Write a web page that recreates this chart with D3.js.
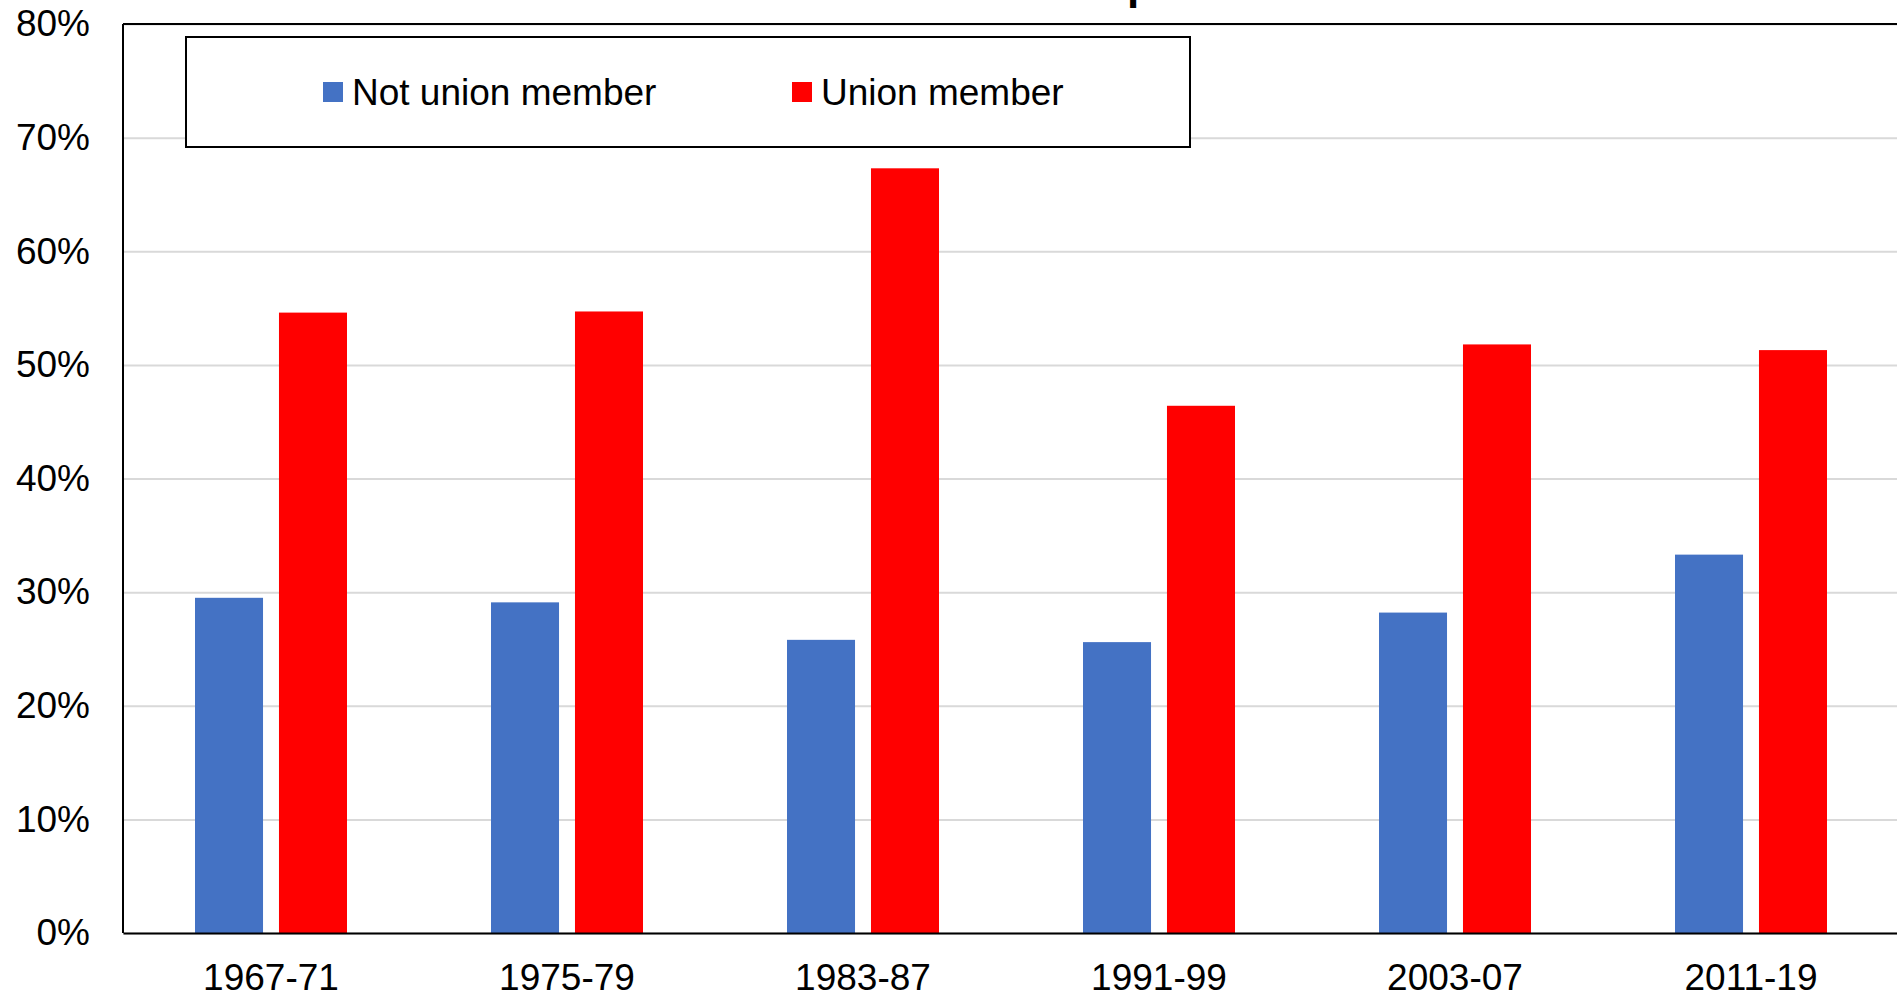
<!DOCTYPE html>
<html lang="en">
<head>
    <meta charset="UTF-8">
    <script src="https://cdnjs.cloudflare.com/ajax/libs/d3/7.8.5/d3.min.js"></script>
    <style>
        body { margin: 0; background: #fff; }
        svg { display: block; font-family: "Liberation Sans", Arial, sans-serif; }
    </style>
</head>
<body>
<div id="chart"></div>

<script>
    // data
    var periods = ["1967-71", "1975-79", "1983-87", "1991-99", "2003-07", "2011-19"];
    var seriesNames = ["Not union member", "Union member"];
    var notUnion = [29.5, 29.1, 25.8, 25.6, 28.2, 33.3];
    var union = [54.6, 54.7, 67.3, 46.4, 51.8, 51.3];
    var yTicks = [0, 10, 20, 30, 40, 50, 60, 70, 80];
    var colors = ["#4472C4", "#FF0000"];

    var W = 1897, H = 995;
    var margin = {top: 24, left: 123, bottom: 62};
    var plotW = 1776;
    var plotH = H - margin.top - margin.bottom;

    var rows = periods.map(function (p, i) {
        return {period: p, values: [notUnion[i], union[i]]};
    });

    var svg = d3.select("#chart").append("svg")
        .attr("width", W)
        .attr("height", H);

    // title is cropped off the top of the picture, only a descender shows
    var title = svg.append("text")
        .attr("y", -1)
        .attr("font-size", 44)
        .attr("font-weight", "bold")
        .attr("fill", "#000")
        .text("Union membership");
    var pIdx = title.text().indexOf("p");
    var pX = title.node().getStartPositionOfChar(pIdx).x;
    title.attr("x", 1127 - pX);

    var g = svg.append("g")
        .attr("transform", "translate(" + margin.left + "," + margin.top + ")");

    var x0 = d3.scaleBand().domain(periods).range([0, plotW]).padding(0);
    var x1 = d3.scaleBand().domain([0, 1]).range([72, 224]).paddingInner(0.19);
    var y = d3.scaleLinear().domain([0, 80]).range([plotH, 0]);

    // gridlines
    g.append("g")
        .call(d3.axisLeft(y).tickValues(yTicks).tickSize(-plotW).tickFormat(""))
        .call(function (s) { s.select(".domain").remove(); })
        .selectAll("line")
        .attr("stroke", "#d9d9d9")
        .attr("stroke-width", 2);

    // bars
    var groups = g.selectAll(".grp")
        .data(rows)
        .enter().append("g")
        .attr("class", "grp")
        .attr("transform", function (d) { return "translate(" + x0(d.period) + ",0)"; });

    groups.selectAll("rect")
        .data(function (d) { return d.values.map(function (v, k) { return {k: k, v: v}; }); })
        .enter().append("rect")
        .attr("x", function (d) { return x1(d.k); })
        .attr("width", x1.bandwidth())
        .attr("y", function (d) { return y(d.v); })
        .attr("height", function (d) { return plotH - y(d.v); })
        .attr("fill", function (d) { return colors[d.k]; });

    // plot frame
    g.append("line").attr("x1", 0).attr("x2", plotW).attr("y1", 0).attr("y2", 0)
        .attr("stroke", "#000").attr("stroke-width", 2);
    g.append("line").attr("x1", 0).attr("x2", 0).attr("y1", 0).attr("y2", plotH)
        .attr("stroke", "#000").attr("stroke-width", 2);
    g.append("line").attr("x1", plotW).attr("x2", plotW).attr("y1", 0).attr("y2", plotH)
        .attr("stroke", "#000").attr("stroke-width", 2);

    // y axis labels
    g.append("g")
        .call(d3.axisLeft(y).tickValues(yTicks).tickSize(0).tickPadding(33)
            .tickFormat(function (d) { return d + "%"; }))
        .call(function (s) { s.select(".domain").remove(); })
        .selectAll("text")
        .attr("font-size", 37)
        .attr("font-family", "Liberation Sans, Arial, sans-serif")
        .attr("fill", "#000");

    // x axis
    var xAxis = g.append("g")
        .attr("transform", "translate(0," + plotH + ")")
        .call(d3.axisBottom(x0).tickSize(0).tickPadding(31));
    xAxis.select(".domain").attr("stroke", "#000").attr("stroke-width", 2);
    xAxis.selectAll("text")
        .attr("font-size", 37)
        .attr("font-family", "Liberation Sans, Arial, sans-serif")
        .attr("fill", "#000");

    // legend
    var legend = svg.append("g");
    legend.append("rect")
        .attr("x", 186).attr("y", 37)
        .attr("width", 1004).attr("height", 110)
        .attr("fill", "#fff")
        .attr("stroke", "#000")
        .attr("stroke-width", 2);

    var legendX = [323, 792];
    var items = legend.selectAll(".item")
        .data(seriesNames)
        .enter().append("g")
        .attr("class", "item")
        .attr("transform", function (d, i) { return "translate(" + legendX[i] + ",82)"; });
    items.append("rect")
        .attr("width", 20).attr("height", 20)
        .attr("fill", function (d, i) { return colors[i]; });
    items.append("text")
        .attr("x", 29)
        .attr("y", 10)
        .attr("dy", "0.35em")
        .attr("font-size", 37)
        .attr("fill", "#000")
        .text(function (d) { return d; });
</script>
</body>
</html>
